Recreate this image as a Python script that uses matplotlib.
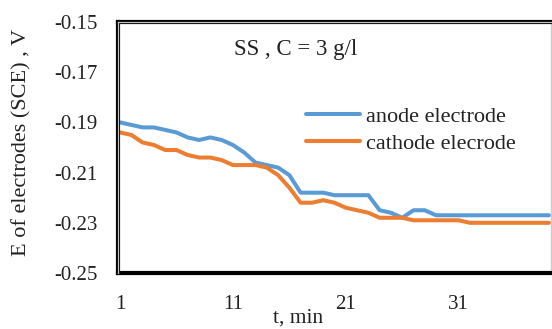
import matplotlib
matplotlib.use("Agg")
import matplotlib.pyplot as plt

plt.rcParams['font.family'] = ['Liberation Serif', 'DejaVu Serif']
plt.rcParams['axes.unicode_minus'] = False

t_min = list(range(1, 40))
anode = [-0.190, -0.191, -0.192, -0.192, -0.193, -0.194, -0.196, -0.197, -0.196, -0.197,
         -0.199, -0.202, -0.206, -0.207, -0.208, -0.211, -0.218, -0.218, -0.218, -0.219,
         -0.219, -0.219, -0.219, -0.225, -0.226, -0.228, -0.225, -0.225, -0.227, -0.227,
         -0.227, -0.227, -0.227, -0.227, -0.227, -0.227, -0.227, -0.227, -0.227]
cathode = [-0.194, -0.195, -0.198, -0.199, -0.201, -0.201, -0.203, -0.204, -0.204, -0.205,
           -0.207, -0.207, -0.207, -0.208, -0.211, -0.216, -0.222, -0.222, -0.221, -0.222,
           -0.224, -0.225, -0.226, -0.228, -0.228, -0.228, -0.229, -0.229, -0.229, -0.229,
           -0.229, -0.230, -0.230, -0.230, -0.230, -0.230, -0.230, -0.230, -0.230]
x_ticks = [1, 11, 21, 31]
y_ticks = [-0.25, -0.23, -0.21, -0.19, -0.17, -0.15]
series_labels = ['anode electrode', 'cathode elecrode']

W, H = 552, 329
fig = plt.figure(figsize=(W / 100, H / 100), dpi=100)
L, R, T, B = 118, 551, 22, 273
ax = fig.add_axes([L / W, 1 - B / H, (R - L) / W, (B - T) / H])

ax.plot(t_min, anode, color='#5B9BD5', lw=2.9, solid_capstyle='round', label=series_labels[0])
ax.plot(t_min, cathode, color='#ED7D31', lw=2.9, solid_capstyle='round', label=series_labels[1])

ax.set_xlim(0.82, 39.18)
ax.set_ylim(-0.25, -0.15)
ax.set_xticks(x_ticks)
ax.set_xticklabels([str(v) for v in x_ticks])
ax.set_yticks(y_ticks)
ax.set_yticklabels(['%.2f' % v for v in y_ticks])
ax.tick_params(axis='both', length=0, labelsize=15, colors='#222222')
ax.tick_params(axis='y', pad=15)
ax.tick_params(axis='x', pad=16)

# frame
for s in ('bottom', 'left', 'top'):
    ax.spines[s].set_linewidth(3)
    ax.spines[s].set_color('black')
ax.spines['right'].set_linewidth(1)
ax.spines['right'].set_color('#cccccc')
ax.plot([0, 0], [0, 1], transform=ax.transAxes, color='#c0c0c0', lw=0.9, clip_on=False, zorder=5)
ax.plot([0, 1], [1, 1], transform=ax.transAxes, color='#c0c0c0', lw=0.9, clip_on=False, zorder=5)

leg = ax.legend(loc='upper left', bbox_to_anchor=((306 - L) / (R - L), 1 - (106 - T) / (B - T)),
                frameon=False, fontsize=16, handlelength=2.45, handletextpad=0.25,
                labelspacing=0.3, borderaxespad=0, borderpad=0)
for txt in leg.get_texts():
    txt.set_color('#222222')

ax.text((296 - L) / (R - L), 1 - (50 - T) / (B - T), 'SS , C = 3 g/l', transform=ax.transAxes,
        ha='center', va='center', fontsize=16.5, color='#222222')

fig.text(298 / W, 1 - 318 / H, 't, min', ha='center', va='center', fontsize=15.5, color='#222222')
fig.text(22 / W, 1 - 142 / H, 'E of electrodes (SCE) , V', rotation=90, ha='center', va='center',
         fontsize=16, color='#222222')

fig.savefig('out.png', dpi=100)
